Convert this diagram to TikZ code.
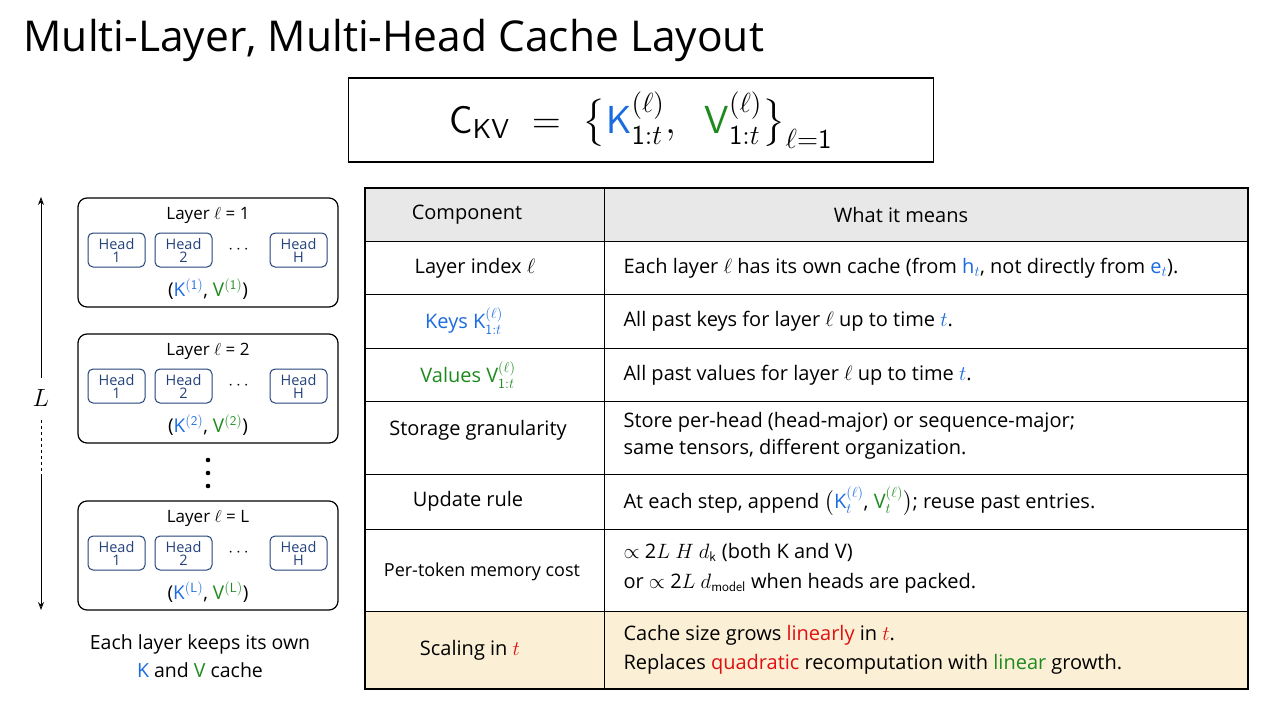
\documentclass[tikz,border=0pt]{standalone}
\usepackage{fontspec}
\usepackage{amsmath}
\setmainfont{Open Sans}
\usetikzlibrary{arrows.meta}
\definecolor{kb}{HTML}{1A6BE0}
\definecolor{vg}{HTML}{1E8A1E}
\definecolor{rr}{HTML}{E01010}
\definecolor{hb}{HTML}{23427A}
\definecolor{hdr}{HTML}{E8E8E8}
\definecolor{yel}{HTML}{FBF0D6}
\newcommand{\Kc}[1]{\textcolor{kb}{#1}}
\newcommand{\Vc}[1]{\textcolor{vg}{#1}}
\newcommand{\Rc}[1]{\textcolor{rr}{#1}}
\begin{document}
\begin{tikzpicture}[x=1pt,y=-1pt,
  lay/.style={draw,line width=1.2pt,rounded corners=9pt},
  head/.style={draw=hb,line width=1pt,rounded corners=5pt,minimum width=57pt,minimum height=34pt,inner sep=0pt,text=hb,align=center,font=\fontsize{14.5}{13}\selectfont},
  tl/.style={font=\fontsize{20}{26}\selectfont,align=center},
  tr/.style={font=\fontsize{20}{28}\selectfont,anchor=west,align=left},
  grid/.style={line width=1pt}]
\useasboundingbox (0,0) rectangle (1280,720);
\node[anchor=west,font=\fontsize{42.5}{46}\selectfont] (title) at (20,40) {Multi-Layer, Multi-Head Cache Layout};
\node[draw,line width=1.6pt,minimum width=585pt,minimum height=84pt,inner sep=2pt] (eq) at (641,120) {\scalebox{2.3}{\fontsize{17}{20}\selectfont $\mathsf{C_{KV}}\;=\;\bigl\{\Kc{\mathsf{K}}^{(\ell)}_{\mathsf{1:}t},\;\;\Vc{\mathsf{V}}^{(\ell)}_{\mathsf{1:}t}\bigr\}_{\ell=\mathsf{1}}$}};
% left column
\foreach \n/\y/\s in {1/198/1,2/334/2,3/501/L}{
  \draw[lay] (78,\y) rectangle (338,\y+109);
  \node[font=\fontsize{17}{20}\selectfont] (lt\n) at (208,\y+17) {Layer $\ell$ = \s};
  \node[head] (ha\n) at (116.5,\y+52) {Head\\1};
  \node[head] (hb\n) at (183.5,\y+52) {Head\\2};
  \node[font=\fontsize{18}{18}\selectfont] (hd\n) at (240,\y+52) {$\cdots$};
  \node[head] (hc\n) at (298.5,\y+52) {Head\\H};
  \node[font=\fontsize{19}{20}\selectfont] (kv\n) at (208,\y+91) {(\Kc{K$^{(\mathsf{\s})}$}, \Vc{V$^{(\mathsf{\s})}$})};
}
\foreach \yy in {460,473,486}{\fill (208,\yy) circle (2.3pt);}
\coordinate (atop) at (41,197);
\coordinate (abot) at (41,610);
\coordinate (a1) at (41,378);
\coordinate (a2) at (41,420);
\coordinate (a3) at (41,475);
\node[font=\fontsize{30}{30}\selectfont] (Lb) at (41,398) {$L$};
\draw[line width=1pt,-{Stealth[length=8pt,open]}] (a1) -- (atop);
\draw[line width=1pt,dashed] (a2) -- (a3);
\draw[line width=1pt,-{Stealth[length=8pt,open]}] (a3) -- (abot);
\node[align=center,font=\fontsize{19.5}{28}\selectfont] (cap) at (200,656) {Each layer keeps its own\\\Kc{K} and \Vc{V} cache};
% table
\fill[hdr] (365,188) rectangle (1248,241);
\fill[yel] (365,611) rectangle (1248,689);
\foreach \y in {241,294,348,401,474,529,611}{\draw[grid] (365,\y) -- (1248,\y);}
\draw[line width=1.3pt] (365,188) rectangle (1248,689);
\draw[grid] (604,188) -- (604,689);
\node[tl] (c0) at (467,215) {Component};
\node[tl] (m0) at (901,215) {What it means};
\node[tl] (c1) at (475,268) {Layer index $\ell$};
\node[tr] (m1) at (620,268) {Each layer $\ell$ has its own cache (from \Kc{h$_t$}, not directly from \Kc{e$_t$}).};
\node[tl] (c2) at (464,321) {\Kc{Keys K$^{(\ell)}_{\mathsf{1:}t}$}};
\node[tr] (m2) at (620,321) {All past keys for layer $\ell$ up to time \Kc{$t$}.};
\node[tl] (c3) at (468,375) {\Vc{Values} \Vc{V$^{(\ell)}_{\mathsf{1:}t}$}};
\node[tr] (m3) at (620,375) {All past values for layer $\ell$ up to time \Kc{$t$}.};
\node[tl] (c4) at (478,430) {Storage granularity};
\node[tr,font=\fontsize{20}{27}\selectfont] (m4) at (620,436) {Store per-head (head-major) or sequence-major;\\same tensors, different organization.};
\node[tl] (c5) at (468,501) {Update rule};
\node[tr] (m5) at (620,501) {At each step, append $\bigl($\Kc{K$^{(\ell)}_t$}, \Vc{V$^{(\ell)}_t$}$\bigr)$; reuse past entries.};
\node[tl,font=\fontsize{18}{20}\selectfont] (c6) at (482,572) {Per-token memory cost};
\node[tr,font=\fontsize{20}{30}\selectfont] (m6) at (620,568) {$\propto$ 2$L$ $H$ $d_{\mathsf k}$ (both K and V)\\or $\propto$ 2$L$ $d_{\mathsf{model}}$ when heads are packed.};
\node[tl] (c7) at (470,650) {Scaling in \Rc{$t$}};
\node[tr,font=\fontsize{20}{29}\selectfont] (m7) at (620,650) {Cache size grows \Rc{linearly} in \Rc{$t$}.\\Replaces \Rc{quadratic} recomputation with \Vc{linear} growth.};
\end{tikzpicture}
\end{document}
